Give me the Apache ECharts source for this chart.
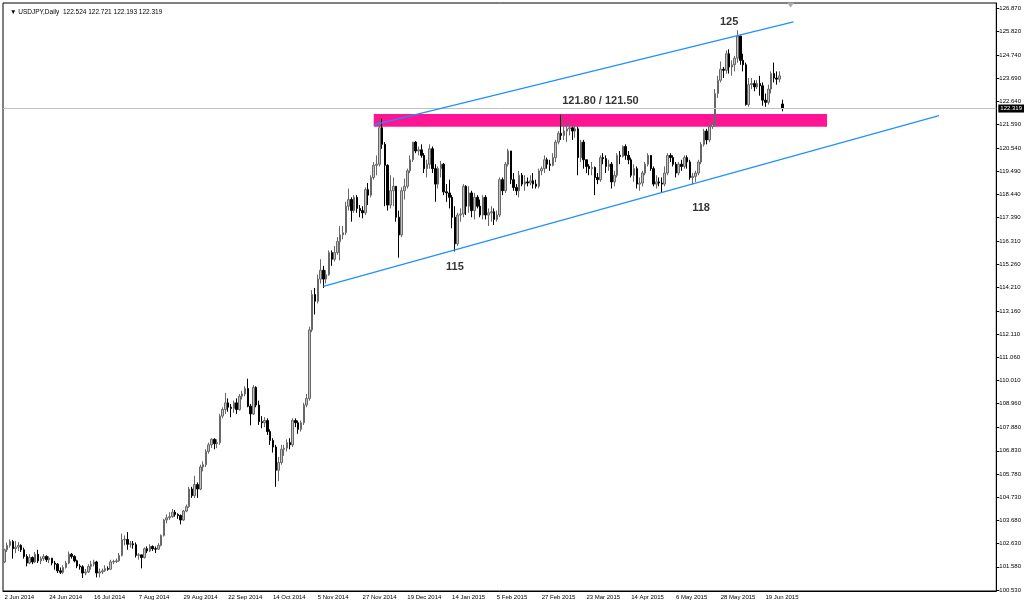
<!DOCTYPE html>
<html><head><meta charset="utf-8">
<script src="https://cdn.jsdelivr.net/npm/echarts@6/dist/echarts.min.js"></script>
<style>html,body{margin:0;padding:0;background:#fff}#c{width:1024px;height:605px}</style>
</head><body><div id="c"></div>
<script>
// ---------- DATA ----------
const symbolName = 'USDJPY,Daily';
const lastBarOHLC = [122.524, 122.721, 122.193, 122.319]; // as shown in the header: O H L C
const priceTicks = [126.870,125.820,124.740,123.690,122.640,121.590,120.540,119.490,118.440,117.390,116.310,115.260,114.210,113.160,112.110,111.060,110.010,108.960,107.880,106.830,105.780,104.730,103.680,102.630,101.580,100.530];
const firstDate = '2014-06-02';
const skippedDays = ['2014-12-25', '2015-01-01'];
const totalSlots = 355;      // bars + empty chart-shift space
const labelEvery = 16;

// candles: [open, close, low, high]
const jun2014 = [
[101.80,102.35,101.75,102.40],[102.35,102.55,102.25,102.68],[102.55,102.72,102.45,102.82],[102.72,102.40,101.95,102.80],[102.40,102.47,102.20,102.75],
[102.47,102.55,102.30,102.70],[102.55,102.35,102.25,102.60],[102.35,102.05,101.95,102.45],[102.05,101.75,101.60,102.15],[101.75,102.00,101.70,102.15],
[102.00,101.80,101.70,102.05],[101.80,102.15,101.75,102.25],[102.15,101.85,101.75,102.35],[101.85,101.95,101.70,102.05],[101.95,102.05,101.85,102.15],
[102.05,101.90,101.80,102.10],[101.90,101.97,101.75,102.05],[101.97,101.75,101.65,101.98],[101.75,101.70,101.45,101.85],[101.70,101.40,101.30,101.75],
[101.40,101.33,101.25,101.55]];
const jul2014 = [
[101.33,101.55,101.25,101.65],[101.55,101.75,101.50,101.85],[101.75,102.15,101.70,102.27],[102.15,102.05,101.95,102.20],
[102.05,101.85,101.78,102.10],[101.85,101.62,101.52,101.90],[101.62,101.58,101.45,101.70],[101.58,101.30,101.07,101.65],[101.30,101.35,101.20,101.48],
[101.35,101.60,101.30,101.70],[101.60,101.70,101.45,101.85],[101.70,101.80,101.60,101.90],[101.80,101.30,101.10,101.85],[101.30,101.35,101.10,101.50],
[101.35,101.40,101.25,101.50],[101.40,101.50,101.35,101.65],[101.50,101.47,101.40,101.60],[101.47,101.80,101.45,101.90],[101.80,101.82,101.70,101.90],
[101.82,101.85,101.75,101.95],[101.85,102.10,101.80,102.20],[102.10,102.80,102.05,103.08],[102.80,102.82,102.55,103.00]];
const aug2014 = [
[102.82,102.60,102.35,103.15],
[102.60,102.62,102.45,102.75],[102.62,102.58,102.40,102.75],[102.58,102.10,102.00,102.68],[102.10,102.12,101.90,102.20],[102.12,102.00,101.51,102.12],
[102.00,102.40,101.95,102.45],[102.40,102.30,102.20,102.50],[102.30,102.50,102.25,102.60],[102.50,102.40,102.30,102.55],[102.40,102.38,102.20,102.50],
[102.38,102.55,102.35,102.65],[102.55,103.00,102.50,103.05],[103.00,103.70,102.95,103.75],[103.70,103.80,103.55,103.95],[103.80,103.85,103.70,104.05],
[103.85,104.05,103.80,104.20],[104.05,103.95,103.85,104.15],[103.95,103.90,103.75,104.00],[103.90,103.70,103.50,103.95],[103.70,104.10,103.65,104.15]];
const sep2014 = [
[104.10,104.30,104.05,104.40],[104.30,105.10,104.25,105.20],[105.10,104.80,104.70,105.20],[104.80,105.30,104.70,105.70],[105.30,105.10,104.70,105.40],
[105.10,106.10,105.05,106.20],[106.10,106.20,105.90,106.35],[106.20,106.80,106.10,106.90],[106.80,107.10,106.70,107.20],[107.10,107.35,106.95,107.40],
[107.35,107.15,106.90,107.40],[107.15,107.20,106.95,107.35],[107.20,108.40,107.10,108.50],[108.40,108.70,108.30,108.80],[108.70,109.00,108.50,109.45],
[109.00,108.80,108.60,109.20],[108.80,108.75,108.35,108.95],[108.75,109.00,108.55,109.10],[109.00,108.70,108.50,109.20],[108.70,109.30,108.65,109.40],
[109.30,109.40,109.15,109.55],[109.40,109.65,109.30,109.75]];
const oct2014 = [
[109.65,108.85,108.80,110.09],[108.85,108.50,107.98,108.95],[108.50,109.70,108.45,109.80],
[109.70,108.90,108.80,109.75],[108.90,108.15,108.00,109.10],[108.15,108.10,107.85,108.40],[108.10,108.20,107.90,108.35],[108.20,107.70,107.55,108.30],
[107.70,107.30,107.10,107.80],[107.30,107.00,106.75,107.40],[107.00,105.95,105.20,107.10],[105.95,106.30,105.45,106.55],[106.30,106.90,106.20,107.10],
[106.90,106.95,106.60,107.10],[106.95,107.20,106.80,107.35],[107.20,107.10,106.90,107.40],[107.10,108.20,107.00,108.30],[108.20,108.10,107.90,108.30],
[108.10,107.80,107.60,108.20],[107.80,108.10,107.70,108.20],[108.10,108.90,108.00,109.00],[108.90,109.20,108.80,109.40],[109.20,112.30,109.10,112.45]];
const nov2014 = [
[112.30,113.90,112.20,114.10],[113.90,113.60,113.00,114.20],[113.60,114.60,113.50,114.80],[114.60,115.00,114.40,115.50],[115.00,114.60,114.20,115.20],
[114.60,114.80,114.40,115.00],[114.80,115.80,114.75,115.90],[115.80,115.50,115.20,115.90],[115.50,115.80,115.40,116.10],[115.80,116.30,115.70,116.50],
[116.30,116.60,115.45,117.00],[116.60,116.70,116.40,117.00],[116.70,117.90,116.60,118.10],[117.90,118.20,117.70,118.70],[118.20,117.70,117.20,118.30],
[117.70,118.30,117.60,118.40],[118.30,117.80,117.60,118.40],[117.80,117.70,117.40,117.95],[117.70,117.60,117.35,117.90],[117.60,118.65,117.50,118.75]];
const dec2014 = [
[118.65,118.40,117.95,118.95],[118.40,119.20,118.30,119.30],[119.20,119.75,119.10,119.90],[119.75,119.80,119.30,120.20],[119.80,121.45,119.70,121.85],
[121.45,120.70,120.50,121.86],[120.70,119.75,117.90,120.80],[119.75,117.95,117.70,119.80],[117.95,118.60,117.80,119.30],[118.60,118.80,117.90,119.20],
[118.80,117.40,117.20,118.80],[117.40,116.60,115.57,117.70],[116.60,118.60,116.50,118.75],[118.60,118.80,118.20,119.15],[118.80,119.50,118.70,119.60],
[119.50,120.00,119.40,120.20],[120.00,120.80,119.90,120.80],[120.80,120.40,120.30,120.85],[120.40,120.45,120.20,120.60],
[120.45,120.20,120.10,120.70],[120.20,119.60,119.40,120.30],[119.60,119.80,119.20,120.00]];
const jan2015 = [
[119.80,120.50,119.60,120.70],
[120.50,119.60,119.40,120.60],[119.60,118.90,118.10,119.80],[118.90,119.60,118.70,119.70],[119.60,119.80,119.20,119.95],[119.80,118.55,118.40,119.85],
[118.55,118.50,118.10,118.90],[118.50,118.30,117.80,119.10],[118.30,117.40,116.90,118.40],[117.40,116.20,115.85,117.90],[116.20,117.50,116.10,117.60],
[117.50,117.55,117.20,117.80],[117.55,118.80,117.40,118.90],[118.80,117.90,117.50,118.85],[117.90,118.50,117.60,118.80],[118.50,117.70,117.40,118.60],
[117.70,118.30,117.30,118.50],[118.30,117.90,117.80,118.40],[117.90,117.50,117.40,118.20],[117.50,118.30,117.30,118.40],[118.30,117.50,117.30,118.40]];
const feb2015 = [
[117.50,117.60,117.00,117.80],[117.60,117.65,117.20,117.90],[117.65,117.30,117.05,117.80],[117.30,117.50,117.20,117.70],[117.50,119.10,117.40,119.20],
[119.10,118.60,118.40,119.20],[118.60,119.80,118.50,119.90],[119.80,120.40,119.70,120.50],[120.40,119.10,118.90,120.40],[119.10,118.75,118.60,119.40],
[118.75,118.60,118.40,118.90],[118.60,119.30,118.30,119.50],[119.30,118.90,118.80,119.40],[118.90,119.00,118.60,119.30],[119.00,118.95,118.80,119.20],
[118.95,119.05,118.85,119.30],[119.05,118.90,118.70,119.40],[118.90,118.80,118.70,119.10],[118.80,119.50,118.70,119.60],[119.50,119.60,119.30,119.70]];
const mar2015 = [
[119.60,120.00,119.40,120.20],[120.00,119.80,119.60,120.10],[119.80,119.75,119.50,120.00],[119.75,120.10,119.70,120.30],[120.10,120.80,119.90,120.90],
[120.80,121.20,120.70,121.30],[121.20,121.10,120.90,122.03],[121.10,121.30,120.90,121.95],[121.30,121.40,120.80,121.60],[121.40,121.45,121.10,121.80],
[121.45,121.30,120.90,121.50],[121.30,121.40,121.00,121.60],[121.40,120.10,119.30,121.50],[120.10,120.80,119.90,120.90],[120.80,120.00,119.60,120.90],
[120.00,119.70,119.40,120.00],[119.70,119.60,119.30,119.80],[119.60,119.65,119.30,119.90],[119.65,119.20,118.40,119.70],[119.20,119.10,118.90,119.40],
[119.10,120.10,119.00,120.20],[120.10,120.05,119.80,120.30]];
const apr2015 = [
[120.05,119.70,119.40,120.20],[119.70,119.80,119.50,120.00],[119.80,119.00,118.70,119.90],
[119.00,119.30,118.80,119.50],[119.30,120.20,119.20,120.30],[120.20,120.15,119.80,120.40],[120.15,120.60,120.10,120.65],[120.60,120.20,120.00,120.70],
[120.20,120.00,119.80,120.40],[120.00,119.30,119.20,120.10],[119.30,119.60,119.00,119.80],[119.60,118.90,118.70,119.70],[118.90,118.95,118.60,119.20],
[118.95,119.40,118.80,119.50],[119.40,119.80,119.30,119.90],[119.80,120.20,119.70,120.30],[120.20,119.60,119.50,120.20],[119.60,118.90,118.80,119.70],
[118.90,119.00,118.70,119.30],[119.00,118.95,118.80,119.20],[118.95,118.90,118.50,119.20],[118.90,119.40,118.80,119.70]];
const may2015 = [
[119.40,120.20,119.30,120.30],
[120.20,120.10,119.90,120.30],[120.10,119.80,119.70,120.20],[119.80,119.40,119.20,119.90],[119.40,119.80,119.30,119.90],[119.80,119.70,119.50,120.00],
[119.70,120.10,119.60,120.20],[120.10,119.90,119.60,120.20],[119.90,119.20,119.10,120.00],[119.20,119.25,118.88,119.40],[119.25,119.40,119.00,119.50],
[119.40,119.90,119.30,120.00],[119.90,120.70,119.80,120.80],[120.70,121.30,120.60,121.40],[121.30,120.90,120.70,121.40],[120.90,121.50,120.80,121.60],
[121.50,121.60,121.40,121.75],[121.60,123.00,121.50,123.20],[123.00,123.60,122.80,123.80],[123.60,124.10,123.50,124.45],[124.10,124.05,123.70,124.20]];
const jun2015 = [
[124.05,124.80,123.90,124.95],[124.80,124.20,123.90,125.00],[124.20,124.30,123.80,124.50],[124.30,124.60,124.00,124.70],[124.60,125.60,124.40,125.86],
[125.60,124.50,124.30,125.60],[124.50,124.30,124.00,124.80],[124.30,122.50,122.45,124.40],[122.50,123.40,122.40,123.70],[123.40,123.45,123.20,123.70],
[123.45,123.30,123.10,123.60],[123.30,123.45,123.20,123.60],[123.45,123.35,122.90,123.80],[123.35,122.70,122.45,123.50],[122.70,122.60,122.40,123.00],
[122.60,123.20,122.50,123.40],[123.20,123.90,123.00,124.00],[123.90,123.70,123.50,124.40],[123.70,123.65,123.40,124.00],[123.65,123.80,123.50,124.00],
[122.524,122.319,122.193,122.721]];

// drawn objects (bar index, price)
const upperTrend = [[132, 121.58], [282, 126.24]];
const lowerTrend = [[114, 114.27], [334, 122.00]];
const zoneBars = [132, 294];
const zonePrices = [121.50, 122.07];
const notes = [[259, 126.24, '125'], [213, 122.66, '121.80 / 121.50'], [161, 115.15, '115'], [249, 117.82, '118']];
const shiftMarker = [281, 127.0];

// ---------- BUILD ----------
const ohlc = [].concat(jun2014, jul2014, aug2014, sep2014, oct2014, nov2014, dec2014, jan2015, feb2015, mar2015, apr2015, may2015, jun2015);
const MON = ['Jan','Feb','Mar','Apr','May','Jun','Jul','Aug','Sep','Oct','Nov','Dec'];
const cats = [];
{
  const p = firstDate.split('-').map(Number);
  let d = new Date(Date.UTC(p[0], p[1]-1, p[2]));
  while (cats.length < totalSlots) {
    const wd = d.getUTCDay();
    const iso = d.toISOString().slice(0,10);
    if (wd !== 0 && wd !== 6 && skippedDays.indexOf(iso) < 0) {
      cats.push(d.getUTCDate() + ' ' + MON[d.getUTCMonth()] + ' ' + d.getUTCFullYear());
    }
    d = new Date(d.getTime() + 86400000);
  }
}
const showIdx = (i) => i % labelEvery === 0 && i < ohlc.length;
const FONT = 'Liberation Sans, Arial, sans-serif';

const chart = echarts.init(document.getElementById('c'), null, {renderer: 'canvas'});
chart.setOption({
  animation: false,
  backgroundColor: '#ffffff',
  title: {
    text: '\u25BC ' + symbolName + '  ' + lastBarOHLC.map(v => v.toFixed(3)).join(' '),
    left: 5, top: 4,
    textStyle: {fontSize: 6.5, fontWeight: 'normal', color: '#000', fontFamily: FONT}
  },
  grid: {left: 3, right: 24, top: 3, bottom: 14, show: true, borderColor: '#000', borderWidth: 1, backgroundColor: '#fff'},
  xAxis: {
    type: 'category', data: cats, boundaryGap: true,
    axisLine: {lineStyle: {color: '#000', width: 1}},
    axisTick: {interval: (i) => showIdx(i), length: 3, lineStyle: {color: '#000'}},
    axisLabel: {interval: (i) => showIdx(i), fontSize: 6, color: '#000', align: 'left', margin: 3, fontFamily: FONT},
    splitLine: {show: false}
  },
  yAxis: {
    type: 'value', position: 'right', min: 100.485, max: 127.096,
    axisLine: {show: true, lineStyle: {color: '#000', width: 1}},
    axisTick: {show: true, customValues: priceTicks, length: 3, lineStyle: {color: '#000'}},
    axisLabel: {customValues: priceTicks, formatter: (v) => v.toFixed(3), fontSize: 6, color: '#000', margin: 3, fontFamily: FONT},
    splitLine: {show: false}
  },
  series: [
    {
      type: 'candlestick', data: ohlc, barWidth: 2,
      itemStyle: {color: '#c4c4c4', color0: '#000000', borderColor: '#686868', borderColor0: '#000000', borderWidth: 1},
      markArea: {
        silent: true,
        itemStyle: {color: '#ff1493', opacity: 1},
        data: [[{xAxis: zoneBars[0], yAxis: zonePrices[1]}, {xAxis: zoneBars[1], yAxis: zonePrices[0]}]]
      },
      markLine: {
        silent: true, symbol: 'none',
        lineStyle: {color: '#c0c0c0', width: 1, type: 'solid'},
        label: {show: true, position: 'end', distance: 2, formatter: lastBarOHLC[3].toFixed(3), backgroundColor: '#000', color: '#fff', fontSize: 6, padding: [1, 2, 1, 2], fontFamily: FONT},
        data: [{yAxis: lastBarOHLC[3]}]
      },
      markPoint: {
        silent: true,
        symbol: 'triangle', symbolRotate: 180, symbolSize: [7, 5],
        itemStyle: {color: '#a8a8a8'},
        label: {show: false},
        data: [{coord: shiftMarker}]
      }
    },
    {type: 'line', data: upperTrend, symbol: 'none', lineStyle: {color: '#1e90ff', width: 1.2}, z: 5, silent: true},
    {type: 'line', data: lowerTrend, symbol: 'none', lineStyle: {color: '#1e90ff', width: 1.2}, z: 5, silent: true},
    {
      type: 'scatter', symbolSize: 0, z: 6, silent: true,
      data: notes.map(n => ({value: [n[0], n[1]], name: n[2]})),
      label: {show: true, position: 'inside', formatter: (p) => p.name, fontSize: 11, fontWeight: 'bold', color: '#000', fontFamily: FONT}
    }
  ]
});
</script></body></html>
